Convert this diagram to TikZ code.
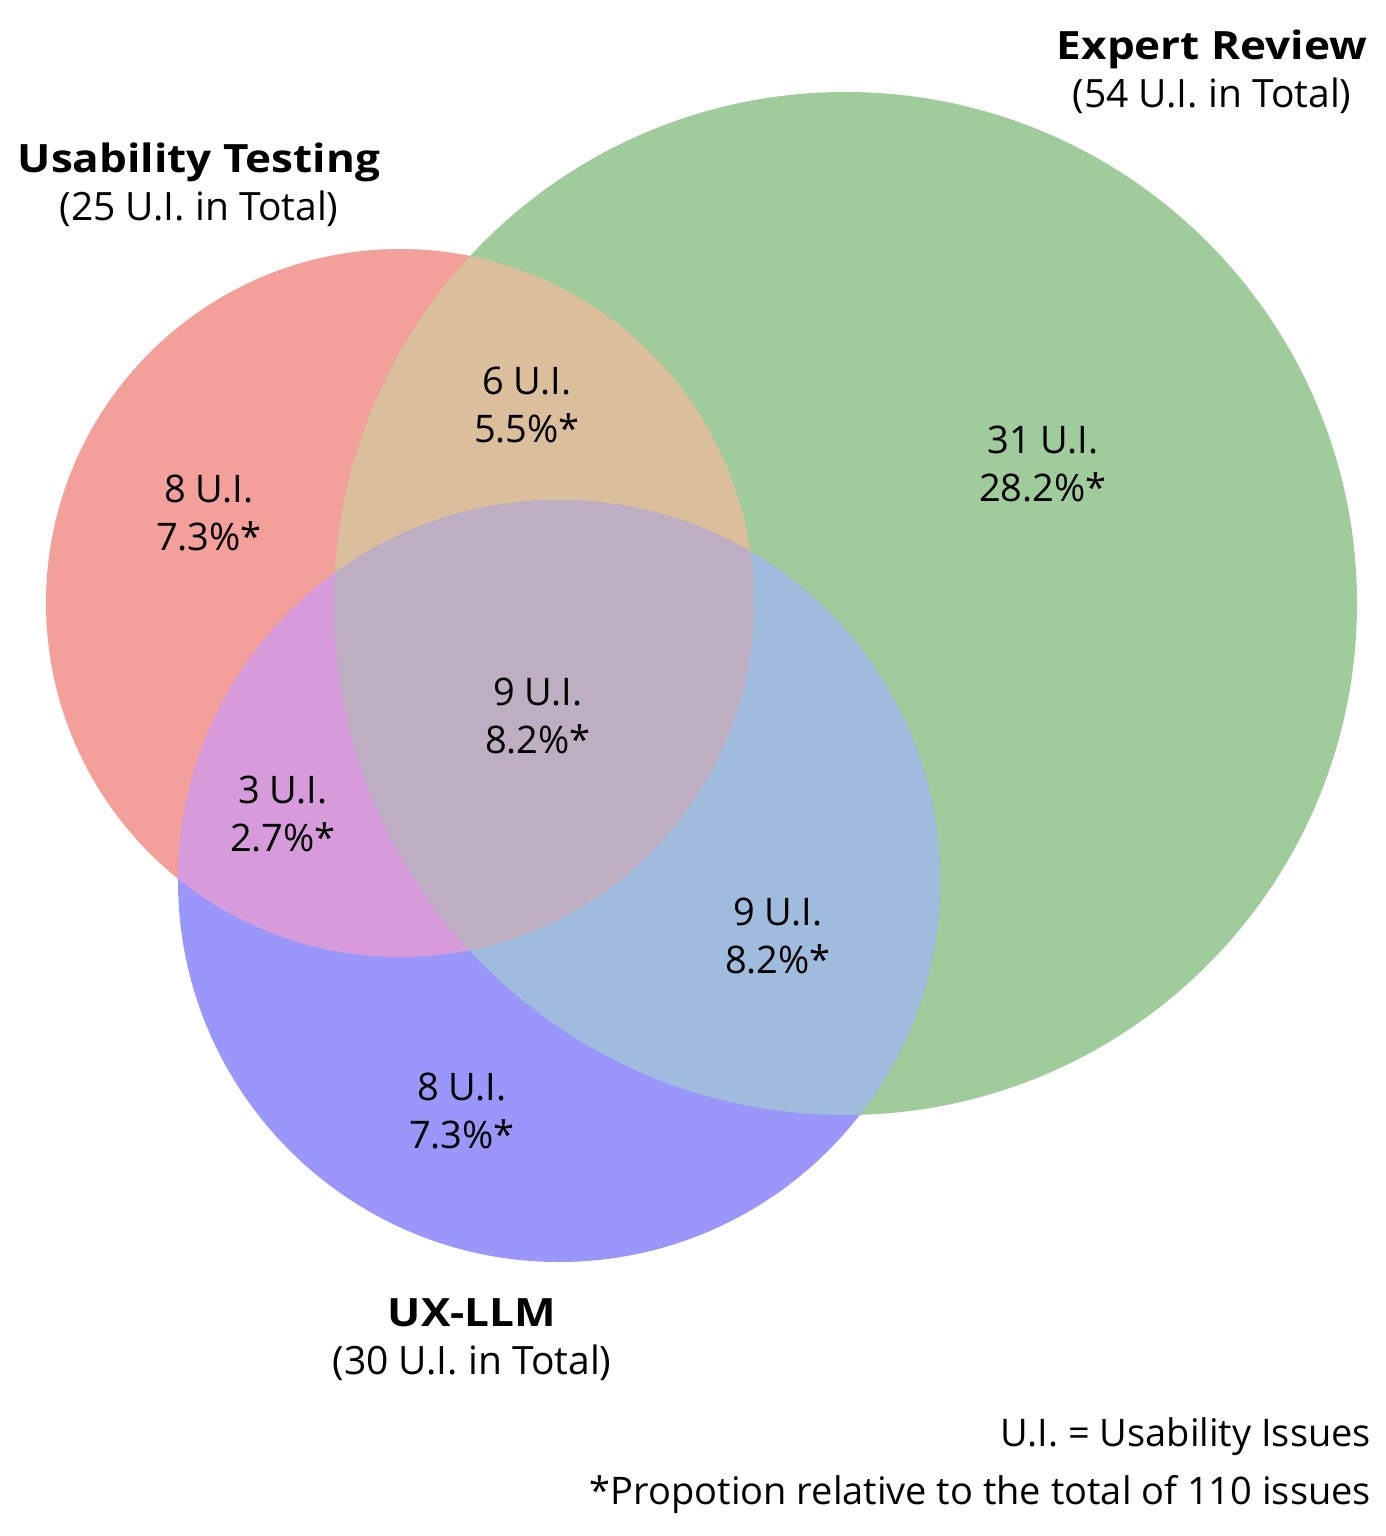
\documentclass[tikz,border=0pt]{standalone}
\usepackage{fontspec}
\setmainfont{Open Sans}
\definecolor{utred}{HTML}{F4A09A}
\definecolor{ergreen}{HTML}{A0CB9B}
\definecolor{llmblue}{HTML}{9A96FA}
\definecolor{uter}{HTML}{DBBE9C}
\definecolor{utllm}{HTML}{D79BDC}
\definecolor{erllm}{HTML}{9FBBDE}
\definecolor{allthree}{HTML}{BEAEC2}
\newcommand\rUT{177pt}
\newcommand\rER{255.75pt}
\newcommand\rLLM{190.5pt}
\newcommand\settitle[1]{\scalebox{1.13}[1]{\bfseries #1}}

\begin{document}
\begin{tikzpicture}[x=0.5pt,y=-0.5pt,
  lbl/.style={align=center,font=\fontsize{19}{24}\selectfont},
  title/.style={align=center,font=\fontsize{19.5}{24}\selectfont}]
\useasboundingbox (0,0) rectangle (1386,1536);
\coordinate (ut) at (400,603);
\coordinate (er) at (845.5,603.5);
\coordinate (llm) at (559,881);
% the three sets
\fill[utred] (ut) circle[radius=\rUT];
\fill[ergreen] (er) circle[radius=\rER];
\fill[llmblue] (llm) circle[radius=\rLLM];
% overlaps
\begin{scope}
  \clip (ut) circle[radius=\rUT];
  \fill[uter] (er) circle[radius=\rER];
  \fill[utllm] (llm) circle[radius=\rLLM];
\end{scope}
\begin{scope}
  \clip (er) circle[radius=\rER];
  \fill[erllm] (llm) circle[radius=\rLLM];
  \clip (ut) circle[radius=\rUT];
  \fill[allthree] (llm) circle[radius=\rLLM];
\end{scope}
% set titles
\node[title] (erT) at (1212,71.5) {\settitle{Expert Review}\\(54 U.I. in Total)};
\node[title] (utT) at (199,185) {\settitle{Usability Testing}\\(25 U.I. in Total)};
\node[title] (llmT) at (472,1340) {\settitle{UX-LLM}\\(30 U.I. in Total)};
% region counts
\node[lbl] (utOnly) at (209,513) {8 U.I.\\7.3\%*};
\node[lbl] (erOnly) at (1043,464) {31 U.I.\\28.2\%*};
\node[lbl] (llmOnly) at (462,1111) {8 U.I.\\7.3\%*};
\node[lbl] (utEr) at (527,405) {6 U.I.\\5.5\%*};
\node[lbl] (utLlm) at (283,814) {3 U.I.\\2.7\%*};
\node[lbl] (erLlm) at (778,936) {9 U.I.\\8.2\%*};
\node[lbl] (all) at (538,716) {9 U.I.\\8.2\%*};
% notes
\node[lbl,anchor=east] (key) at (1378,1437) {U.I. = Usability Issues};
\node[lbl,anchor=east] (note) at (1378,1495) {*Propotion relative to the total of 110 issues};
\end{tikzpicture}
\end{document}
